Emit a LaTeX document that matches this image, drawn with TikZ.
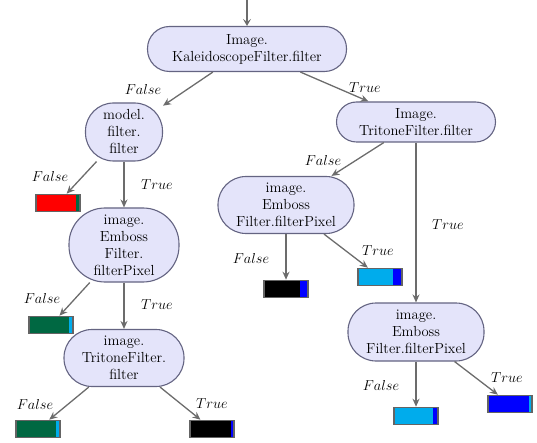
\documentclass[tikz,border=0pt]{standalone}
\usetikzlibrary{arrows.meta}
\definecolor{nodefill}{RGB}{228,228,250}
\definecolor{nodeline}{RGB}{100,100,130}
\definecolor{edgecol}{RGB}{108,108,108}
\definecolor{leafline}{RGB}{100,100,100}
\definecolor{lred}{RGB}{255,0,0}
\definecolor{lgreen}{RGB}{0,104,66}
\definecolor{lcyan}{RGB}{0,172,236}
\definecolor{lblue}{RGB}{0,0,255}
\definecolor{lblack}{RGB}{0,0,0}
\tikzset{
  every node/.style={font=\fontsize{14.6}{17}\selectfont},
  dnode/.style n args={3}{draw=nodeline, line width=1.1pt, fill=nodefill,
    rectangle, rounded corners=#3, align=center, inner sep=0pt,
    minimum width=#1, minimum height=#2},
  leaf/.style n args={3}{draw=leafline, line width=1.6pt, fill=#1,
    rectangle, inner sep=0pt, minimum width=44pt, minimum height=17pt,
    path picture={\fill[#2] ([xshift=-#3]path picture bounding box.north east)
      rectangle (path picture bounding box.south east);}},
  conn/.style={draw=edgecol, line width=1.3pt, -{Stealth[length=8pt,width=7pt]}},
  entry/.style={draw=edgecol, line width=1.1pt, -{Stealth[length=7pt,width=8pt,inset=3pt]}},
  elab/.style={inner sep=0pt}
}
\begin{document}
\begin{tikzpicture}[x=1pt,y=-1pt]
\useasboundingbox (0,0) rectangle (537,443);
\coordinate (start) at (247,0);
% decision nodes
\node[dnode={199pt}{45pt}{22pt}] (root) at (247,49) {Image.\\KaleidoscopeFilter.filter};
\node[dnode={77pt}{58pt}{28pt}] (model) at (124,132) {model.\\filter.\\filter};
\node[dnode={159pt}{40pt}{20pt}] (tri1) at (416,122) {Image.\\TritoneFilter.filter};
\node[dnode={110pt}{74pt}{36pt}] (emb1) at (124,245) {image.\\Emboss\\Filter.\\filterPixel};
\node[dnode={120pt}{57pt}{28pt}] (tri2) at (124,358) {image.\\TritoneFilter.\\filter};
\node[dnode={136pt}{57pt}{28pt}] (emb2) at (286,205) {image.\\Emboss\\Filter.filterPixel};
\node[dnode={136pt}{58pt}{28pt}] (emb3) at (416,332) {image.\\Emboss\\Filter.filterPixel};
% leaves
\node[leaf={lred}{lgreen}{4.5pt}] (l1) at (58,203) {};
\node[leaf={lgreen}{lcyan}{4.5pt}] (l2) at (51,325) {};
\node[leaf={lgreen}{lcyan}{4.5pt}] (l3) at (38,429) {};
\node[leaf={lblack}{lblue}{3.2pt}] (l4) at (212,429) {};
\node[leaf={lblack}{lblue}{8.5pt}] (l5) at (286,289) {};
\node[leaf={lcyan}{lblue}{9pt}] (l6) at (380,277) {};
\node[leaf={lcyan}{lblue}{5.5pt}] (l7) at (416,416) {};
\node[leaf={lblue}{lcyan}{2.6pt}] (l8) at (510,404) {};
% connectors
\draw[entry] (start) -- (root.north);
\draw[conn] (root) -- (model);
\draw[conn] (root) -- (tri1);
\draw[conn] (model) -- (l1);
\draw[conn] (model) -- (emb1);
\draw[conn] (emb1) -- (l2);
\draw[conn] (emb1) -- (tri2);
\draw[conn] (tri2) -- (l3);
\draw[conn] (tri2) -- (l4);
\draw[conn] (tri1) -- (emb2);
\draw[conn] (tri1) -- (emb3);
\draw[conn] (emb2) -- (l5);
\draw[conn] (emb2) -- (l6);
\draw[conn] (emb3) -- (l7);
\draw[conn] (emb3) -- (l8);
% labels
\node[elab] (f1) at (143,90) {$False$};
\node[elab] (t1) at (365,88) {$True$};
\node[elab] (f2) at (50,177) {$False$};
\node[elab] (t2) at (157,185) {$True$};
\node[elab] (f3) at (42,298) {$False$};
\node[elab] (t3) at (157,305) {$True$};
\node[elab] (f4) at (35,404) {$False$};
\node[elab] (t4) at (212,404) {$True$};
\node[elab] (f5) at (323,161) {$False$};
\node[elab] (t5) at (448,225) {$True$};
\node[elab] (f6) at (251,258) {$False$};
\node[elab] (t6) at (378,251) {$True$};
\node[elab] (f7) at (381,385) {$False$};
\node[elab] (t7) at (507,378) {$True$};
\end{tikzpicture}
\end{document}
